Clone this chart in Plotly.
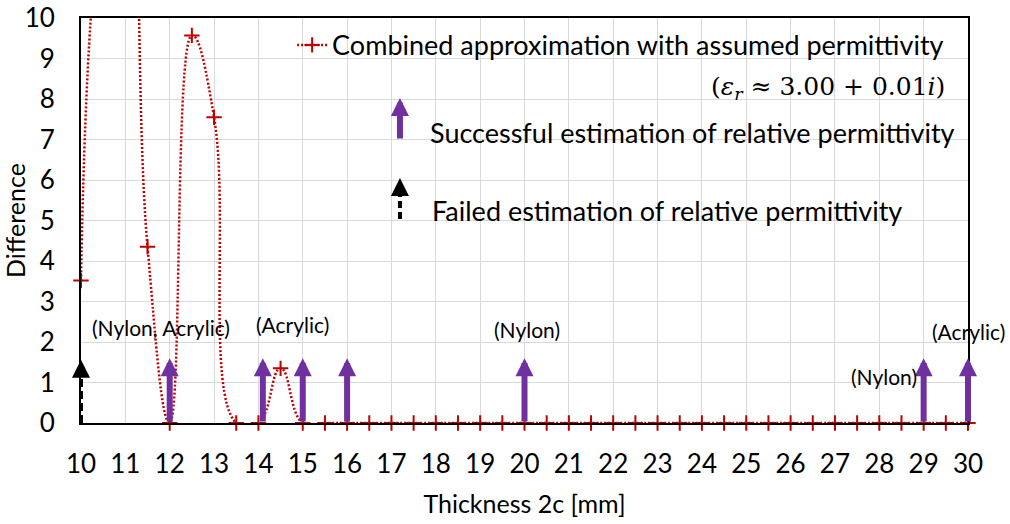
import plotly.graph_objects as go

# ---------------- data ----------------
thickness = [10, 10.5, 11, 11.5, 12, 12.5, 13, 13.5, 14, 14.5, 15, 15.5, 16, 16.5, 17, 17.5,
             18, 18.5, 19, 19.5, 20, 20.5, 21, 21.5, 22, 22.5, 23, 23.5, 24, 24.5, 25, 25.5,
             26, 26.5, 27, 27.5, 28, 28.5, 29, 29.5, 30]
difference = [3.52, 13.0, 15.0, 4.35, 0.0, 9.57, 7.55, 0.0, 0.0, 1.35, 0.0, 0.0, 0.0, 0.0, 0.0, 0.0,
              0.0, 0.0, 0.0, 0.0, 0.0, 0.0, 0.0, 0.0, 0.0, 0.0, 0.0, 0.0, 0.0, 0.0, 0.0, 0.0,
              0.0, 0.0, 0.0, 0.0, 0.0, 0.0, 0.0, 0.0, 0.0]

success_x = [12, 14.1, 15, 16, 20, 29, 30]
failed_x = [10]

label_text = ["(Nylon, Acrylic)", "(Acrylic)", "(Nylon)", "(Nylon)", "(Acrylic)"]
label_x = [11.8, 14.76, 20.06, 28.1, 30.0]
label_y = [2.35, 2.42, 2.3, 1.14, 2.27]

x_ticks = list(range(10, 31))
y_ticks = list(range(0, 11))

series_name = "Combined approximation with assumed permittivity"
eps_text = "(<i>ε<sub>r</sub></i> ≈ 3.00 + 0.01<i>i</i>)"
success_text = "Successful estimation of relative permittivity"
failed_text = "Failed estimation of relative permittivity"

RED = "#C00000"
PURPLE = "#7030A0"
FONT = "Lato"

fig = go.Figure()
fig.add_trace(go.Scatter(
    x=thickness, y=difference, name=series_name,
    mode="lines+markers",
    line=dict(color=RED, width=2.5, dash="2px,2px", shape="spline", smoothing=1.3),
    marker=dict(symbol="cross-thin", size=11, color=RED, line=dict(width=2, color=RED)),
    cliponaxis=False,
))

ARROW_TOP = 1.6
annotations = []
for xv in success_x:
    annotations.append(dict(
        x=xv, y=ARROW_TOP, ax=xv, ay=0, xref="x", yref="y", axref="x", ayref="y",
        text="", showarrow=True, arrowhead=2, arrowsize=0.6, arrowwidth=6,
        arrowcolor=PURPLE, standoff=0, startstandoff=0))

shapes = []
for xv in failed_x:
    shapes.append(dict(type="line", xref="x", yref="y", x0=xv, x1=xv, y0=0, y1=1.25,
                       line=dict(color="black", width=4, dash="8px,4px")))
    annotations.append(dict(
        x=xv, y=1.56, ax=xv, ay=1.15, xref="x", yref="y", axref="x", ayref="y",
        text="", showarrow=True, arrowhead=2, arrowsize=0.9, arrowwidth=4,
        arrowcolor="black", standoff=0))

for t, xv, yv in zip(label_text, label_x, label_y):
    annotations.append(dict(x=xv, y=yv, xref="x", yref="y", text=t, showarrow=False,
                            font=dict(family=FONT, size=21, color="black")))

# custom legend entries
annotations.append(dict(x=0.976, y=0.827, xref="paper", yref="paper", xanchor="right",
                        yanchor="middle", text=eps_text, showarrow=False,
                        font=dict(family="DejaVu Serif", size=25, color="black")))
annotations.append(dict(x=0.3596, y=0.8025, xref="paper", yref="paper", ax=0, ay=42,
                        text="", showarrow=True, arrowhead=2, arrowsize=0.6, arrowwidth=6,
                        arrowcolor=PURPLE, standoff=0))
annotations.append(dict(x=0.391, y=0.7185, xref="paper", yref="paper", xanchor="left",
                        yanchor="middle", text=success_text, showarrow=False,
                        font=dict(family=FONT, size=27, color="black")))
annotations.append(dict(x=0.3596, y=0.605, xref="paper", yref="paper", ax=0, ay=16,
                        text="", showarrow=True, arrowhead=2, arrowsize=0.9, arrowwidth=4,
                        arrowcolor="black", standoff=0))
shapes.append(dict(type="line", xref="paper", yref="paper", x0=0.3596, x1=0.3596,
                   y0=0.504, y1=0.57, line=dict(color="black", width=4, dash="7px,4px")))
annotations.append(dict(x=0.394, y=0.5235, xref="paper", yref="paper", xanchor="left",
                        yanchor="middle", text=failed_text, showarrow=False,
                        font=dict(family=FONT, size=27, color="black")))

fig.update_layout(
    width=1010, height=524,
    margin=dict(l=81, r=42, t=18, b=101, autoexpand=False),
    paper_bgcolor="white", plot_bgcolor="white",
    font=dict(family=FONT, size=26, color="black"),
    showlegend=True,
    legend=dict(x=0.238, y=0.993, xanchor="left", yanchor="top",
                bgcolor="rgba(0,0,0,0)", font=dict(family=FONT, size=27, color="black")),
    annotations=annotations,
    shapes=shapes,
    xaxis=dict(range=[10, 30], tickvals=x_ticks, ticktext=[str(v) for v in x_ticks],
               showgrid=True, gridcolor="#D9D9D9", gridwidth=1, zeroline=False,
               showline=True, linecolor="black", linewidth=2, mirror=True,
               ticks="", ticklabelstandoff=17, automargin=False,
               tickfont=dict(family=FONT, size=26),
               title=dict(text="Thickness 2c [mm]", font=dict(family=FONT, size=25), standoff=17)),
    yaxis=dict(range=[0, 10], tickvals=y_ticks, ticktext=[str(v) for v in y_ticks],
               showgrid=True, gridcolor="#D9D9D9", gridwidth=1, zeroline=False,
               showline=True, linecolor="black", linewidth=2, mirror=True,
               ticks="", ticklabelstandoff=19, automargin=False,
               tickfont=dict(family=FONT, size=26),
               title=dict(text="Difference", font=dict(family=FONT, size=25), standoff=15)),
)

fig.write_html("out.html")
